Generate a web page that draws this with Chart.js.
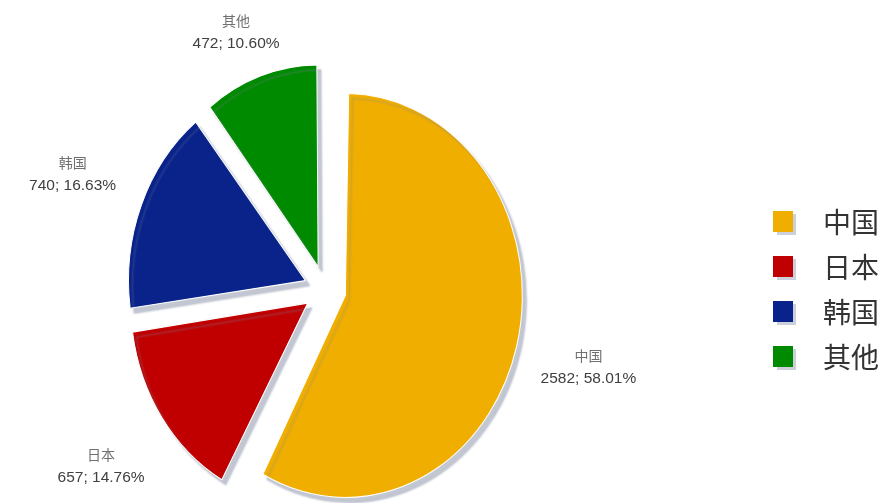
<!DOCTYPE html>
<html>
<head>
<meta charset="utf-8">
<script src="https://cdn.jsdelivr.net/npm/chart.js@4/dist/chart.umd.min.js"></script>
<style>
  html, body { margin: 0; padding: 0; background: #fff; overflow: hidden; }
  /* canvas is wider than the window so the pie can sit left of the plot centre */
  #chartPais { display: block; margin-left: -106px; }
</style>
</head>
<body>
<canvas id="chartPais" width="990" height="503"></canvas>
<script>
const categories = ['中国', '日本', '韩国', '其他'];
const values = [2582, 657, 740, 472];
const colors = ['#F0AE00', '#C00000', '#0A238A', '#008A00'];

const pieRadius = 177;
const sliceOffset = 84;     // chart.js moves a slice by offset / 4
const yStretch = 1.141;     // the source picture is a bit taller than wide
const labelDistance = 272;

// little square with a soft shadow, used as the legend marker
function legendIcon(color) {
    const c = document.createElement('canvas');
    c.width = 36;
    c.height = 26;
    const g = c.getContext('2d');
    g.fillStyle = 'rgba(160, 170, 190, 0.55)';
    g.fillRect(4, 5, 19, 21);
    g.fillStyle = color;
    g.fillRect(0, 2, 20, 21);
    return c;
}

const piePlugin = {
    id: 'piePlugin',
    beforeDatasetsDraw(chart) {
        const meta = chart.getDatasetMeta(0);
        // keep every slice at the same radius once it is pulled out
        meta.data.forEach(arc => {
            const fix = 1 - Math.sin(Math.min(Math.PI, arc.circumference));
            arc.outerRadius = pieRadius - (sliceOffset / 4) * fix;
        });
        const cx = meta.data[0].x, cy = meta.data[0].y;
        const ctx = chart.ctx;
        ctx.save();
        ctx.translate(cx, cy);
        ctx.scale(1, yStretch);
        ctx.translate(-cx, -cy);
        ctx.shadowColor = 'rgba(120, 130, 155, 0.45)';
        ctx.shadowOffsetX = 4;
        ctx.shadowOffsetY = 5;
        ctx.shadowBlur = 2;
    },
    afterDatasetsDraw(chart) {
        const ctx = chart.ctx;
        ctx.restore();
        const meta = chart.getDatasetMeta(0);
        const total = values.reduce((a, b) => a + b, 0);
        ctx.save();
        ctx.textAlign = 'center';
        ctx.textBaseline = 'middle';
        meta.data.forEach((arc, i) => {
            const mid = (arc.startAngle + arc.endAngle) / 2;
            const lx = arc.x + Math.cos(mid) * labelDistance;
            let ly = arc.y + Math.sin(mid) * labelDistance * yStretch;
            ly = Math.min(Math.max(ly, 32), chart.height - 30);
            ctx.font = '14px "Noto Sans CJK SC"';
            ctx.fillStyle = '#707070';
            ctx.fillText(categories[i], lx, ly - 11);
            ctx.font = '15.5px "Liberation Sans", Arial, sans-serif';
            ctx.fillStyle = '#404040';
            ctx.fillText(values[i] + '; ' + (values[i] / total * 100).toFixed(2) + '%', lx, ly + 12);
        });
        ctx.restore();
    }
};

const ctx = document.getElementById('chartPais').getContext('2d');

new Chart(ctx, {
    type: 'pie',
    data: {
        labels: categories,
        datasets: [{
            data: values,
            backgroundColor: colors,
            borderColor: '#ffffff',
            borderWidth: 1,
            offset: sliceOffset,
            radius: pieRadius,
            clip: false
        }]
    },
    options: {
        responsive: false,
        animation: false,
        layout: {
            padding: { left: 0, right: -5, top: 76, bottom: 0 }
        },
        plugins: {
            tooltip: { enabled: false },
            legend: {
                position: 'right',
                labels: {
                    usePointStyle: true,
                    pointStyleWidth: 36,
                    padding: 17,
                    color: '#333',
                    font: { family: '"Noto Sans CJK SC"', size: 28 },
                    generateLabels: () => categories.map((text, i) => ({
                        text: text,
                        fillStyle: colors[i],
                        strokeStyle: colors[i],
                        lineWidth: 0,
                        pointStyle: legendIcon(colors[i]),
                        fontColor: '#333',
                        hidden: false,
                        index: i
                    }))
                }
            }
        }
    },
    plugins: [piePlugin]
});
</script>
</body>
</html>
